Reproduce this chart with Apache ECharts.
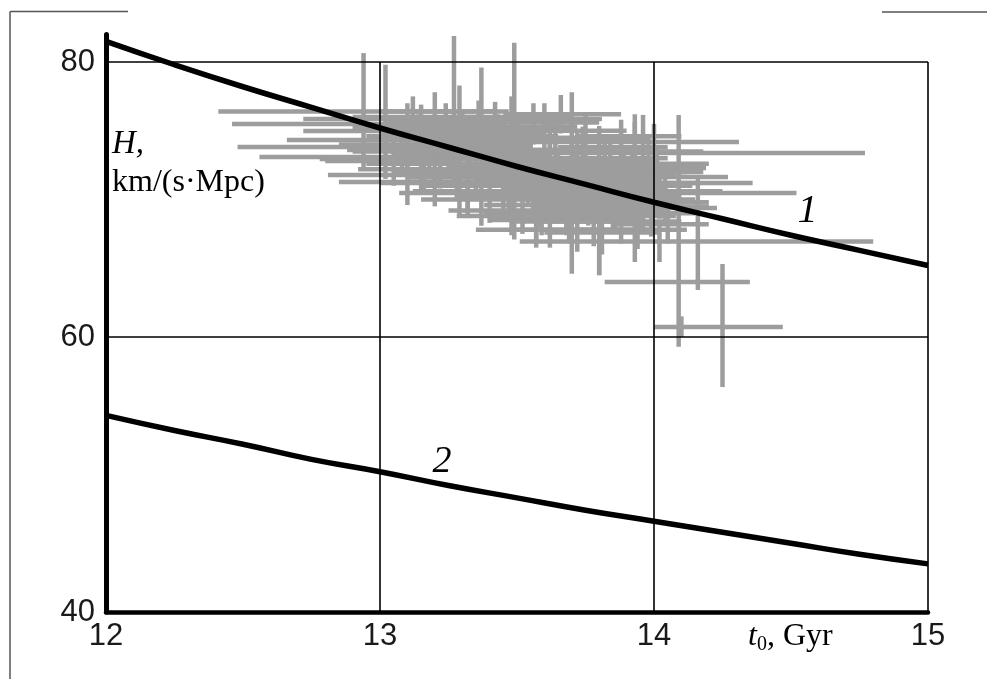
<!DOCTYPE html>
<html>
<head>
<meta charset="utf-8">
<script src="https://cdn.jsdelivr.net/npm/echarts@6/dist/echarts.min.js"></script>
<style>html,body{margin:0;padding:0;background:#fff;}#c{width:987px;height:679px;}</style>
</head>
<body>
<div id="c"></div>
<script>
// Model curves: t0 (Gyr) and H (km/(s·Mpc))
const curveT  = [12, 12.25, 12.5, 12.75, 13, 13.25, 13.5, 13.75, 14, 14.25, 14.5, 14.75, 15];
const curve1H = [81.5, 79.8, 78.2, 76.7, 75.2, 73.8, 72.4, 71.1, 69.8, 68.6, 67.4, 66.3, 65.2];
const curve2H = [54.3, 53.2, 52.2, 51.1, 50.2, 49.2, 48.3, 47.4, 46.6, 45.8, 45.0, 44.2, 43.5];

// Measurements with error bars
const tCenter = [13.27,13.02,12.94,13.49,13.96,13.37,14.09,13.29,13.70,13.32,13.80,13.10,13.93,13.62,14.16,13.57,14.02,14.25,14.10,13.80,
                 13.15,13.10,13.10,13.18,13.22,13.30,13.35,13.40,13.45,13.50,13.55,13.58,13.62,13.65,13.68,13.72,13.75,13.78,13.82,13.85,
                 13.88,13.92,13.95,13.98,14.02,14.05,13.05,13.15,13.25,13.42,13.52,13.60,13.72,13.88,13.40,13.20,13.12,13.48,13.75,14.00,
                 13.08,13.14,13.16,13.24,13.26,13.28,13.33,13.36,13.38,13.43,13.46,13.47,13.53,13.54,13.56,13.59,13.61,13.64,13.66,13.69,
                 13.71,13.74,13.76,13.79,13.81,13.84,13.86,13.89,13.91,13.94,13.97,13.99,14.01,14.04,13.57,13.48,13.20,13.32,13.66,13.93];
const tLow    = [12.41,12.72,12.46,12.66,13.45,12.48,13.60,12.78,13.35,12.81,13.30,12.85,13.20,13.07,13.55,13.40,13.51,13.82,14.00,13.40,
                 12.56,12.72,12.85,12.90,12.95,13.00,13.05,13.10,13.15,13.20,13.25,13.28,13.32,13.35,13.38,13.42,13.45,13.48,13.52,13.55,
                 13.58,13.62,13.70,13.75,13.80,13.85,12.80,12.90,12.98,13.12,13.25,13.30,13.50,13.65,13.15,13.00,12.90,13.30,13.55,13.85,
                 12.88,12.95,12.92,13.02,13.05,13.10,13.12,13.15,13.18,13.22,13.25,13.28,13.30,13.33,13.35,13.38,13.40,13.43,13.45,13.48,
                 13.50,13.52,13.55,13.58,13.60,13.62,13.65,13.68,13.70,13.72,13.75,13.78,13.80,13.85,13.35,13.28,13.00,13.12,13.45,13.72];
const tHigh   = [13.47,13.81,13.40,13.62,14.31,13.55,14.77,13.75,14.19,13.70,14.27,13.65,14.36,14.52,14.23,13.95,14.80,14.35,14.47,14.05,
                 13.60,13.50,13.35,13.45,13.50,13.60,13.65,13.70,13.75,13.80,13.85,13.88,13.92,13.95,13.98,14.02,14.05,14.08,14.12,14.15,
                 14.10,14.15,14.20,14.20,14.25,14.20,13.30,13.40,13.52,13.72,13.80,13.90,14.00,14.05,13.62,13.45,13.38,13.70,13.98,14.18,
                 13.30,13.36,13.42,13.46,13.50,13.48,13.55,13.58,13.60,13.65,13.68,13.70,13.75,13.78,13.80,13.82,13.84,13.86,13.88,13.90,
                 13.93,13.95,13.98,14.00,14.02,14.05,14.06,14.08,14.10,14.12,14.14,14.15,14.18,14.20,13.78,13.70,13.42,13.55,13.88,14.10];
const hCenter = [76.4,75.85,75.5,74.33,74.18,73.82,73.38,72.95,72.29,71.78,71.64,71.27,71.2,70.47,69.38,68.51,66.95,64.0,60.73,69.0,
                 73.1,74.98,74.0,73.5,72.6,74.8,72.0,73.4,71.0,74.2,72.5,70.2,73.6,71.5,69.6,72.8,70.8,68.8,72.0,70.0,
                 68.4,71.2,69.5,72.6,70.6,68.2,72.8,75.2,73.9,75.3,69.2,75.0,67.8,73.8,70.0,71.2,76.0,76.0,74.5,73.5,
                 73.6,74.6,72.2,75.6,73.2,71.6,74.0,75.8,72.6,74.6,72.0,70.4,73.0,71.2,75.6,69.0,72.0,74.2,70.6,68.4,
                 71.8,73.6,69.8,71.4,67.6,73.0,69.2,71.8,70.2,67.8,71.0,69.0,72.0,69.8,67.8,68.8,76.4,70.6,76.2,74.6];
const hLow    = [71.0,71.5,72.3,67.1,67.5,68.1,59.3,68.9,64.6,68.65,64.5,69.6,65.45,66.5,63.42,66.8,65.45,56.36,60.0,64.5,
                 70.5,72.0,72.5,71.8,70.8,73.0,70.0,71.5,69.0,72.3,70.5,68.0,71.6,69.3,67.4,70.6,68.5,66.6,69.8,67.8,
                 66.8,69.0,67.5,70.5,68.6,66.8,71.0,73.5,72.0,73.5,67.5,73.0,66.2,71.8,68.3,69.5,74.5,74.5,72.8,71.5,
                 72.0,73.0,70.6,74.0,71.5,70.0,72.3,74.2,71.0,73.0,70.4,68.8,71.3,69.5,74.0,67.4,70.3,72.5,68.9,66.8,
                 70.1,71.9,68.1,69.7,66.0,71.3,67.5,70.1,68.5,66.4,69.3,67.3,70.3,68.1,66.5,67.4,75.0,69.0,74.8,73.0];
const hHigh   = [81.9,79.8,80.65,81.4,76.15,79.6,76.15,78.3,77.8,76.0,75.35,73.0,75.64,74.0,71.5,70.3,68.5,65.31,61.5,71.0,
                 75.5,77.0,75.5,75.2,74.4,76.5,74.0,75.3,73.0,76.1,74.5,72.4,75.6,73.7,71.8,75.0,73.1,71.0,74.2,72.2,
                 70.0,73.4,71.5,74.7,72.6,69.6,74.6,76.9,75.8,77.1,70.9,77.0,69.4,75.8,71.7,72.9,77.5,77.5,76.2,75.5,
                 75.2,76.2,73.8,77.0,74.9,73.2,75.7,77.2,74.2,76.2,73.6,72.0,74.7,72.9,77.0,70.6,73.7,75.9,72.3,70.0,
                 73.5,75.3,71.5,73.1,69.2,74.7,70.9,73.5,71.9,69.2,72.7,70.7,73.7,71.5,69.1,70.2,77.8,72.2,77.6,76.2];

const xTicks = [12, 13, 14, 15];
const yTicks = [40, 60, 80];

const points = tCenter.map((t, i) => [t, tLow[i], tHigh[i], hCenter[i], hLow[i], hHigh[i]]);
const line1 = curveT.map((t, i) => [t, curve1H[i]]);
const line2 = curveT.map((t, i) => [t, curve2H[i]]);

const chart = echarts.init(document.getElementById('c'), null, {renderer: 'canvas'});
const tickFont = {fontFamily: '"Liberation Sans", Arial, sans-serif', fontSize: 31, color: '#1a1a1a'};
const serif = '"Liberation Serif", "Times New Roman", serif';

chart.setOption({
  animation: false,
  backgroundColor: '#fff',
  grid: [
    {left: 106, right: 59, top: 34.5, bottom: 67, show: false},
    {left: 106, right: 59, top: 62, bottom: 67, show: false}
  ],
  xAxis: [
    {gridIndex: 0, type: 'value', min: 12, max: 15, show: false},
    {gridIndex: 1, type: 'value', min: 12, max: 15, interval: 1, z: 3,
     axisLine: {show: true, onZero: false, lineStyle: {color: '#000', width: 4.5}},
     axisTick: {show: false},
     axisLabel: Object.assign({margin: 9, formatter: v => xTicks.includes(v) ? String(v) : ''}, tickFont),
     splitLine: {show: true, lineStyle: {color: '#000', width: 1.6}}}
  ],
  yAxis: [
    {gridIndex: 0, type: 'value', min: 40, max: 82, z: 6,
     axisLine: {show: true, onZero: false, lineStyle: {color: '#000', width: 5}},
     axisTick: {show: false}, axisLabel: {show: false}, splitLine: {show: false}},
    {gridIndex: 1, type: 'value', min: 40, max: 80, interval: 20, z: 3,
     axisLine: {show: false},
     axisTick: {show: false},
     axisLabel: Object.assign({margin: 11, formatter: v => yTicks.includes(v) ? String(v) : ''}, tickFont),
     splitLine: {show: true, lineStyle: {color: '#000', width: 1.6}}}
  ],
  series: [
    {
      type: 'custom', xAxisIndex: 0, yAxisIndex: 0, z: 2,
      data: points,
      encode: {x: [0, 1, 2], y: [3, 4, 5]},
      renderItem: function (params, api) {
        const t = api.value(0), tl = api.value(1), th = api.value(2);
        const h = api.value(3), hl = api.value(4), hh = api.value(5);
        const a = api.coord([tl, h]), b = api.coord([th, h]);
        const c = api.coord([t, hl]), d = api.coord([t, hh]);
        const st = {stroke: '#9d9d9d', lineWidth: 4.5};
        return {type: 'group', children: [
          {type: 'line', shape: {x1: a[0], y1: a[1], x2: b[0], y2: b[1]}, style: st},
          {type: 'line', shape: {x1: c[0], y1: c[1], x2: d[0], y2: d[1]}, style: st}
        ]};
      }
    },
    {
      type: 'line', xAxisIndex: 0, yAxisIndex: 0, z: 5, smooth: true, symbol: 'none',
      data: line1, lineStyle: {color: '#000', width: 5.5},
      markPoint: {symbol: 'circle', symbolSize: 0,
        data: [{coord: [14.56, 69.1], value: '1'}],
        label: {show: true, formatter: '1', fontFamily: serif, fontStyle: 'italic', fontSize: 40, color: '#000'}}
    },
    {
      type: 'line', xAxisIndex: 0, yAxisIndex: 0, z: 5, smooth: true, symbol: 'none',
      data: line2, lineStyle: {color: '#000', width: 5.5},
      markPoint: {symbol: 'circle', symbolSize: 0,
        data: [{coord: [13.226, 50.9], value: '2'}],
        label: {show: true, formatter: '2', fontFamily: serif, fontStyle: 'italic', fontSize: 38, color: '#000'}}
    }
  ],
  graphic: [
    {type: 'line', shape: {x1: 10, y1: 11.5, x2: 128, y2: 11.5}, style: {stroke: '#555', lineWidth: 1.5}, z: 10},
    {type: 'line', shape: {x1: 10, y1: 11.5, x2: 10, y2: 679}, style: {stroke: '#555', lineWidth: 1.5}, z: 10},
    {type: 'line', shape: {x1: 882, y1: 12, x2: 987, y2: 12}, style: {stroke: '#555', lineWidth: 1.5}, z: 10},
    {type: 'text', left: 112, top: 128, z: 10,
     style: {text: 'H,', font: 'italic 33px ' + serif, fill: '#000'}},
    {type: 'text', left: 112, top: 167, z: 10,
     style: {text: 'km/(s·Mpc)', font: '32px ' + serif, fill: '#000'}},
    {type: 'text', left: 748, top: 621, z: 10,
     style: {text: '{t|t}{s|0}{n|, Gyr}', fill: '#000',
       rich: {t: {fontFamily: serif, fontStyle: 'italic', fontSize: 32, verticalAlign: 'bottom'},
              s: {fontFamily: serif, fontSize: 20, verticalAlign: 'bottom', padding: [0, 0, -2, 0]},
              n: {fontFamily: serif, fontSize: 32, verticalAlign: 'bottom'}}}}
  ]
});
</script>
</body>
</html>
